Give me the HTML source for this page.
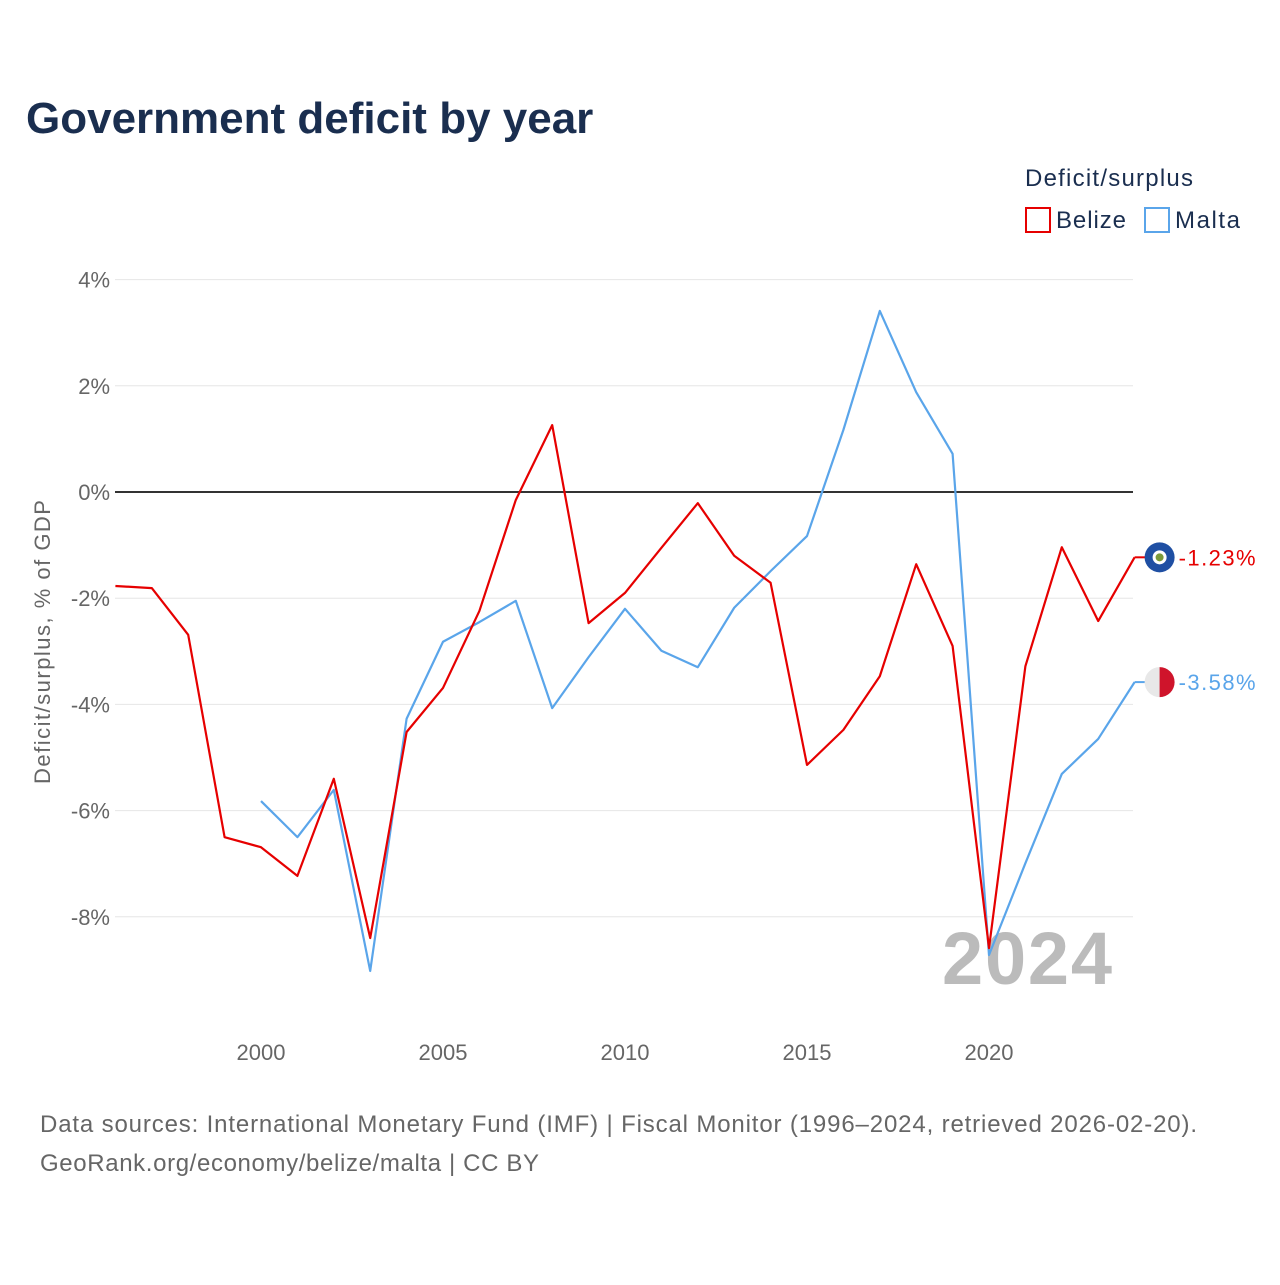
<!DOCTYPE html>
<html><head><meta charset="utf-8"><style>
body{margin:0;background:#fff;font-family:"Liberation Sans",sans-serif}
</style></head><body>
<svg id="chart" width="1280" height="1280" viewBox="0 0 1280 1280" xmlns="http://www.w3.org/2000/svg">
<rect width="1280" height="1280" fill="#fff"/>
<text x="26" y="133" font-size="44" font-weight="bold" fill="#1a2e4f">Government deficit by year</text>
<text x="1025" y="186" font-size="24" fill="#1a2e4f" textLength="168">Deficit/surplus</text>
<g><rect x="1026" y="208" width="24" height="24" fill="none" stroke="#e60000" stroke-width="2"/><text x="1056" y="228" font-size="24" fill="#1a2e4f" textLength="70">Belize</text></g>
<g><rect x="1145" y="208" width="24" height="24" fill="none" stroke="#5aa5ea" stroke-width="2"/><text x="1175" y="228" font-size="24" fill="#1a2e4f" textLength="65">Malta</text></g>
<g id="grid"></g><g id="yticks"></g><g id="xticks"></g>
<text transform="translate(50,642) rotate(-90)" text-anchor="middle" font-size="22" fill="#666" textLength="284">Deficit/surplus, % of GDP</text>
<text x="1112" y="984" text-anchor="end" font-size="74" font-weight="bold" fill="#bbb" textLength="170">2024</text>
<g id="series"></g>
<text x="40" y="1132" font-size="24" fill="#666" textLength="1157">Data sources: International Monetary Fund (IMF) | Fiscal Monitor (1996–2024, retrieved 2026-02-20).</text>
<text x="40" y="1171" font-size="24" fill="#666" textLength="499">GeoRank.org/economy/belize/malta | CC BY</text>
</svg>
<script>
const belizeYears=[1996,1997,1998,1999,2000,2001,2002,2003,2004,2005,2006,2007,2008,2009,2010,2011,2012,2013,2014,2015,2016,2017,2018,2019,2020,2021,2022,2023,2024];
const belizeValues=[-1.77,-1.81,-2.69,-6.5,-6.69,-7.23,-5.4,-8.4,-4.52,-3.69,-2.24,-0.15,1.26,-2.47,-1.9,-1.05,-0.21,-1.2,-1.71,-5.14,-4.48,-3.47,-1.36,-2.9,-8.59,-3.28,-1.04,-2.43,-1.23];
const maltaYears=[2000,2001,2002,2003,2004,2005,2006,2007,2008,2009,2010,2011,2012,2013,2014,2015,2016,2017,2018,2019,2020,2021,2022,2023,2024];
const maltaValues=[-5.82,-6.5,-5.61,-9.02,-4.27,-2.82,-2.45,-2.05,-4.07,-3.11,-2.2,-2.99,-3.3,-2.18,-1.49,-0.83,1.17,3.41,1.88,0.72,-8.72,-6.99,-5.31,-4.65,-3.58];
const yTicks=[4,2,0,-2,-4,-6,-8];
const xTicks=[2000,2005,2010,2015,2020];
const NS="http://www.w3.org/2000/svg";
const X=y=>115.4+(y-1996)*36.4;
const Y=v=>492-v*53.1;
function mk(tag,attrs,parent,txt){const e=document.createElementNS(NS,tag);for(const k in attrs)e.setAttribute(k,attrs[k]);if(txt!==undefined)e.textContent=txt;parent.appendChild(e);return e;}
const g=document.getElementById('grid'),yt=document.getElementById('yticks'),xt=document.getElementById('xticks'),s=document.getElementById('series');
yTicks.forEach(v=>{
 const l=mk('line',{x1:115,x2:1133,y1:Y(v),y2:Y(v),stroke:v===0?'#333':'#e6e6e6','stroke-width':v===0?2:1},g);
 
 
 const t=mk('text',{x:110,y:Y(v)+8,'text-anchor':'end','font-size':22,fill:'#666'},yt,v+'%');
 
 
});
xTicks.forEach(v=>{
 const t=mk('text',{x:X(v),y:1060,'text-anchor':'middle','font-size':22,fill:'#666'},xt,String(v));
 
 
});
function line(years,vals,color,name,label,flag){
 const p=mk('polyline',{points:years.map((y,i)=>X(y)+','+Y(vals[i])).join(' '),fill:'none',stroke:color,'stroke-width':2.2,'stroke-linejoin':'round'},s);
 
 
 const last=vals[vals.length-1],lx=X(years[years.length-1]),ly=Y(last);
 mk('line',{x1:lx,x2:lx+12,y1:ly,y2:ly,stroke:color,'stroke-width':2},s);
 const c=mk('g',{},s);
 
 
 if(flag==='bz'){mk('circle',{cx:lx+25,cy:ly,r:15,fill:'#1f4fa3'},c);mk('circle',{cx:lx+25,cy:ly,r:7,fill:'#fff'},c);mk('circle',{cx:lx+25,cy:ly,r:4,fill:'#7a9a3a'},c);}
 else{mk('circle',{cx:lx+25,cy:ly,r:15,fill:'#e8e8e8'},c);mk('path',{d:`M${lx+25},${ly-15} A15,15 0 0 1 ${lx+25},${ly+15} Z`,fill:'#cf142b'},c);}
 const t=mk('text',{x:lx+44,y:ly+8,'font-size':22,fill:color,textLength:77},s,label);
 
 
}
line(maltaYears,maltaValues,'#5aa5ea','malta',maltaValues[maltaValues.length-1].toFixed(2)+'%','mt');
line(belizeYears,belizeValues,'#e60000','belize',belizeValues[belizeValues.length-1].toFixed(2)+'%','bz');
</script>
</body></html>
